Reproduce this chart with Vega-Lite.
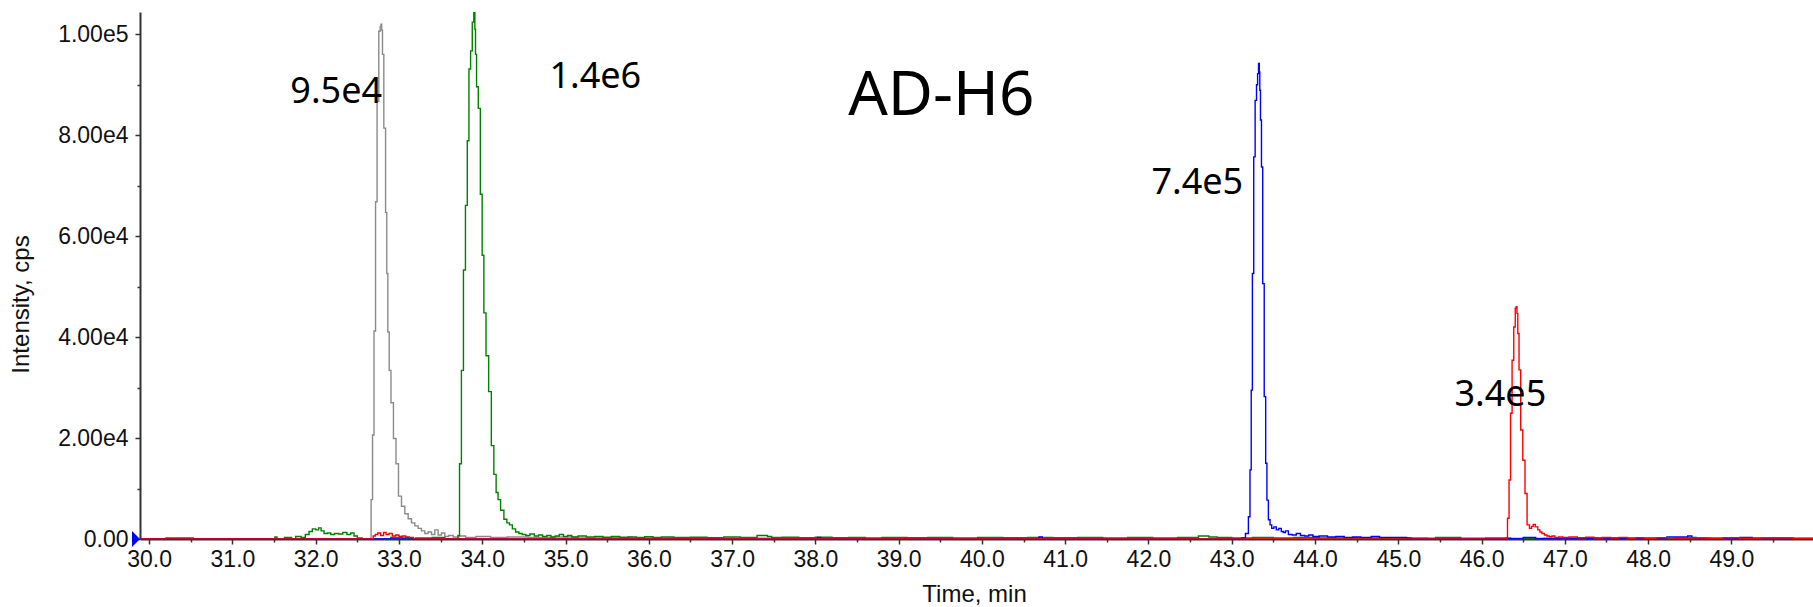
{
  "$schema": "https://vega.github.io/schema/vega-lite/v6.json",
  "width": 1673,
  "height": 527,
  "autosize": {"type": "none"},
  "padding": {"left": 140, "top": 12, "right": 0, "bottom": 68},
  "background": "white",
  "config": {
    "view": {"stroke": null},
    "axis": {
      "zindex": 1,
      "grid": false,
      "domainColor": "#333333",
      "domainWidth": 2,
      "tickColor": "#333333",
      "tickWidth": 1.5,
      "labelFont": "Liberation Sans",
      "labelFontSize": 23,
      "labelColor": "#111111",
      "labelOverlap": false,
      "labelFlush": false,
      "labelBound": false,
      "titleFont": "Liberation Sans",
      "titleFontSize": 24,
      "titleFontWeight": "normal",
      "titleColor": "#111111"
    }
  },
  "datasets": {
    "traces": [
      {"s": "gray", "t": 29.9, "v": 0}, {"s": "gray", "t": 32.6, "v": 0}, {"s": "gray", "t": 32.655, "v": 0},
      {"s": "gray", "t": 32.675, "v": 7800}, {"s": "gray", "t": 32.69, "v": 20600}, {"s": "gray", "t": 32.71, "v": 41200},
      {"s": "gray", "t": 32.727, "v": 66800}, {"s": "gray", "t": 32.747, "v": 86700}, {"s": "gray", "t": 32.768, "v": 100600},
      {"s": "gray", "t": 32.78, "v": 101500}, {"s": "gray", "t": 32.788, "v": 102000}, {"s": "gray", "t": 32.796, "v": 100800},
      {"s": "gray", "t": 32.808, "v": 96000}, {"s": "gray", "t": 32.828, "v": 81400}, {"s": "gray", "t": 32.85, "v": 64700},
      {"s": "gray", "t": 32.857, "v": 52600}, {"s": "gray", "t": 32.875, "v": 41000}, {"s": "gray", "t": 32.89, "v": 33400},
      {"s": "gray", "t": 32.917, "v": 27000}, {"s": "gray", "t": 32.95, "v": 19900}, {"s": "gray", "t": 32.978, "v": 14900},
      {"s": "gray", "t": 33.01, "v": 8500}, {"s": "gray", "t": 33.05, "v": 6500}, {"s": "gray", "t": 33.09, "v": 5000},
      {"s": "gray", "t": 33.13, "v": 4000}, {"s": "gray", "t": 33.17, "v": 3200}, {"s": "gray", "t": 33.21, "v": 2600},
      {"s": "gray", "t": 33.25, "v": 2100}, {"s": "gray", "t": 33.29, "v": 1600}, {"s": "gray", "t": 33.33, "v": 1100},
      {"s": "gray", "t": 33.37, "v": 1400}, {"s": "gray", "t": 33.41, "v": 900}, {"s": "gray", "t": 33.45, "v": 1800},
      {"s": "gray", "t": 33.49, "v": 800}, {"s": "gray", "t": 33.53, "v": 1200}, {"s": "gray", "t": 33.57, "v": 500},
      {"s": "gray", "t": 33.62, "v": 700}, {"s": "gray", "t": 33.68, "v": 400}, {"s": "gray", "t": 33.75, "v": 600},
      {"s": "gray", "t": 33.85, "v": 300}, {"s": "gray", "t": 34.0, "v": 500}, {"s": "gray", "t": 34.2, "v": 300},
      {"s": "gray", "t": 34.4, "v": 400}, {"s": "gray", "t": 34.7, "v": 300}, {"s": "gray", "t": 35.0, "v": 400},
      {"s": "gray", "t": 35.3, "v": 200}, {"s": "gray", "t": 35.6, "v": 350}, {"s": "gray", "t": 36.0, "v": 200},
      {"s": "gray", "t": 36.5, "v": 250}, {"s": "gray", "t": 37.0, "v": 150}, {"s": "gray", "t": 38.0, "v": 50},
      {"s": "gray", "t": 40.0, "v": 50}, {"s": "gray", "t": 45.0, "v": 50}, {"s": "gray", "t": 49.98, "v": 50},

      {"s": "green", "t": 29.9, "v": 0}, {"s": "green", "t": 30.5, "v": 200}, {"s": "green", "t": 30.56, "v": 0},
      {"s": "green", "t": 31.5, "v": 0}, {"s": "green", "t": 31.52, "v": 400}, {"s": "green", "t": 31.55, "v": 0},
      {"s": "green", "t": 31.7, "v": 300}, {"s": "green", "t": 31.72, "v": 0}, {"s": "green", "t": 31.8, "v": 500},
      {"s": "green", "t": 31.85, "v": 300}, {"s": "green", "t": 31.9, "v": 900}, {"s": "green", "t": 31.94, "v": 1500},
      {"s": "green", "t": 31.98, "v": 2000}, {"s": "green", "t": 32.02, "v": 1800}, {"s": "green", "t": 32.05, "v": 2200},
      {"s": "green", "t": 32.08, "v": 1600}, {"s": "green", "t": 32.12, "v": 1100}, {"s": "green", "t": 32.16, "v": 1200},
      {"s": "green", "t": 32.2, "v": 900}, {"s": "green", "t": 32.25, "v": 1100}, {"s": "green", "t": 32.3, "v": 1000},
      {"s": "green", "t": 32.35, "v": 1300}, {"s": "green", "t": 32.4, "v": 900}, {"s": "green", "t": 32.44, "v": 1200},
      {"s": "green", "t": 32.48, "v": 600}, {"s": "green", "t": 32.52, "v": 200}, {"s": "green", "t": 32.6, "v": 0},
      {"s": "green", "t": 32.8, "v": 0}, {"s": "green", "t": 33.0, "v": 300}, {"s": "green", "t": 33.1, "v": 0},
      {"s": "green", "t": 33.3, "v": 200}, {"s": "green", "t": 33.5, "v": 300}, {"s": "green", "t": 33.6, "v": 0},
      {"s": "green", "t": 33.7, "v": 0}, {"s": "green", "t": 33.717, "v": 700}, {"s": "green", "t": 33.737, "v": 14900},
      {"s": "green", "t": 33.762, "v": 33400}, {"s": "green", "t": 33.786, "v": 53300}, {"s": "green", "t": 33.81, "v": 66100},
      {"s": "green", "t": 33.83, "v": 78900}, {"s": "green", "t": 33.85, "v": 93100}, {"s": "green", "t": 33.87, "v": 96700},
      {"s": "green", "t": 33.89, "v": 102400}, {"s": "green", "t": 33.907, "v": 106000}, {"s": "green", "t": 33.915, "v": 101000},
      {"s": "green", "t": 33.923, "v": 96000}, {"s": "green", "t": 33.94, "v": 89600}, {"s": "green", "t": 33.964, "v": 85300},
      {"s": "green", "t": 33.99, "v": 68300}, {"s": "green", "t": 34.008, "v": 56200}, {"s": "green", "t": 34.03, "v": 44800},
      {"s": "green", "t": 34.06, "v": 36300}, {"s": "green", "t": 34.093, "v": 29200}, {"s": "green", "t": 34.125, "v": 18500},
      {"s": "green", "t": 34.153, "v": 12800}, {"s": "green", "t": 34.18, "v": 9200}, {"s": "green", "t": 34.2, "v": 7800},
      {"s": "green", "t": 34.24, "v": 5700}, {"s": "green", "t": 34.28, "v": 3900}, {"s": "green", "t": 34.31, "v": 3200},
      {"s": "green", "t": 34.343, "v": 2800}, {"s": "green", "t": 34.38, "v": 2000}, {"s": "green", "t": 34.42, "v": 1400},
      {"s": "green", "t": 34.46, "v": 1100}, {"s": "green", "t": 34.5, "v": 900}, {"s": "green", "t": 34.545, "v": 700},
      {"s": "green", "t": 34.6, "v": 1000}, {"s": "green", "t": 34.65, "v": 600}, {"s": "green", "t": 34.7, "v": 800},
      {"s": "green", "t": 34.75, "v": 500}, {"s": "green", "t": 34.8, "v": 700}, {"s": "green", "t": 34.85, "v": 400},
      {"s": "green", "t": 34.9, "v": 600}, {"s": "green", "t": 34.95, "v": 900}, {"s": "green", "t": 35.0, "v": 500},
      {"s": "green", "t": 35.05, "v": 700}, {"s": "green", "t": 35.1, "v": 400}, {"s": "green", "t": 35.2, "v": 600},
      {"s": "green", "t": 35.3, "v": 400}, {"s": "green", "t": 35.4, "v": 500}, {"s": "green", "t": 35.5, "v": 300},
      {"s": "green", "t": 35.6, "v": 500}, {"s": "green", "t": 35.7, "v": 300}, {"s": "green", "t": 35.8, "v": 400},
      {"s": "green", "t": 35.9, "v": 300}, {"s": "green", "t": 36.0, "v": 450}, {"s": "green", "t": 36.1, "v": 300},
      {"s": "green", "t": 36.2, "v": 400}, {"s": "green", "t": 36.4, "v": 300}, {"s": "green", "t": 36.6, "v": 350},
      {"s": "green", "t": 36.8, "v": 250}, {"s": "green", "t": 37.0, "v": 400}, {"s": "green", "t": 37.2, "v": 300},
      {"s": "green", "t": 37.4, "v": 700}, {"s": "green", "t": 37.45, "v": 500}, {"s": "green", "t": 37.5, "v": 300},
      {"s": "green", "t": 37.7, "v": 350}, {"s": "green", "t": 37.9, "v": 250}, {"s": "green", "t": 38.1, "v": 350},
      {"s": "green", "t": 38.3, "v": 250}, {"s": "green", "t": 38.5, "v": 300}, {"s": "green", "t": 38.7, "v": 200},
      {"s": "green", "t": 38.9, "v": 300}, {"s": "green", "t": 39.2, "v": 250}, {"s": "green", "t": 39.5, "v": 300},
      {"s": "green", "t": 39.8, "v": 200}, {"s": "green", "t": 40.1, "v": 300}, {"s": "green", "t": 40.4, "v": 250},
      {"s": "green", "t": 40.7, "v": 300}, {"s": "green", "t": 41.0, "v": 250}, {"s": "green", "t": 41.3, "v": 300},
      {"s": "green", "t": 41.6, "v": 200}, {"s": "green", "t": 41.9, "v": 300}, {"s": "green", "t": 42.2, "v": 200},
      {"s": "green", "t": 42.5, "v": 300}, {"s": "green", "t": 42.7, "v": 600}, {"s": "green", "t": 42.75, "v": 400},
      {"s": "green", "t": 42.9, "v": 300}, {"s": "green", "t": 43.1, "v": 200}, {"s": "green", "t": 43.4, "v": 300},
      {"s": "green", "t": 43.6, "v": 200}, {"s": "green", "t": 43.9, "v": 300}, {"s": "green", "t": 44.2, "v": 200},
      {"s": "green", "t": 44.5, "v": 250}, {"s": "green", "t": 44.8, "v": 200}, {"s": "green", "t": 45.0, "v": 250},
      {"s": "green", "t": 45.3, "v": 150}, {"s": "green", "t": 45.6, "v": 300}, {"s": "green", "t": 45.9, "v": 150},
      {"s": "green", "t": 46.2, "v": 200}, {"s": "green", "t": 46.5, "v": 100}, {"s": "green", "t": 47.0, "v": 150},
      {"s": "green", "t": 47.5, "v": 200}, {"s": "green", "t": 48.0, "v": 150}, {"s": "green", "t": 48.5, "v": 200},
      {"s": "green", "t": 49.0, "v": 150}, {"s": "green", "t": 49.5, "v": 200}, {"s": "green", "t": 49.98, "v": 100},

      {"s": "blue", "t": 29.9, "v": 0}, {"s": "blue", "t": 33.05, "v": 0}, {"s": "blue", "t": 33.1, "v": 300},
      {"s": "blue", "t": 33.12, "v": 0}, {"s": "blue", "t": 38.0, "v": 0}, {"s": "blue", "t": 38.05, "v": 300},
      {"s": "blue", "t": 38.08, "v": 0}, {"s": "blue", "t": 40.67, "v": 0}, {"s": "blue", "t": 40.7, "v": 400},
      {"s": "blue", "t": 40.75, "v": 0}, {"s": "blue", "t": 43.1, "v": 0},
      {"s": "blue", "t": 43.14, "v": 200}, {"s": "blue", "t": 43.19, "v": 1100}, {"s": "blue", "t": 43.21, "v": 4400},
      {"s": "blue", "t": 43.228, "v": 13700}, {"s": "blue", "t": 43.24, "v": 29500}, {"s": "blue", "t": 43.256, "v": 52600},
      {"s": "blue", "t": 43.272, "v": 75700}, {"s": "blue", "t": 43.29, "v": 86900}, {"s": "blue", "t": 43.305, "v": 90000},
      {"s": "blue", "t": 43.316, "v": 92200}, {"s": "blue", "t": 43.328, "v": 94200}, {"s": "blue", "t": 43.334, "v": 92500},
      {"s": "blue", "t": 43.34, "v": 88900}, {"s": "blue", "t": 43.35, "v": 83000}, {"s": "blue", "t": 43.364, "v": 73700},
      {"s": "blue", "t": 43.38, "v": 50600}, {"s": "blue", "t": 43.4, "v": 28200}, {"s": "blue", "t": 43.415, "v": 15000},
      {"s": "blue", "t": 43.43, "v": 7700}, {"s": "blue", "t": 43.45, "v": 3800}, {"s": "blue", "t": 43.47, "v": 2800},
      {"s": "blue", "t": 43.49, "v": 2100}, {"s": "blue", "t": 43.52, "v": 2400}, {"s": "blue", "t": 43.55, "v": 1800},
      {"s": "blue", "t": 43.58, "v": 2100}, {"s": "blue", "t": 43.61, "v": 1500}, {"s": "blue", "t": 43.63, "v": 1300},
      {"s": "blue", "t": 43.66, "v": 1600}, {"s": "blue", "t": 43.7, "v": 900}, {"s": "blue", "t": 43.75, "v": 800},
      {"s": "blue", "t": 43.8, "v": 1100}, {"s": "blue", "t": 43.85, "v": 700}, {"s": "blue", "t": 43.9, "v": 600},
      {"s": "blue", "t": 43.95, "v": 800}, {"s": "blue", "t": 44.0, "v": 500}, {"s": "blue", "t": 44.1, "v": 600},
      {"s": "blue", "t": 44.2, "v": 400}, {"s": "blue", "t": 44.3, "v": 500}, {"s": "blue", "t": 44.4, "v": 300},
      {"s": "blue", "t": 44.5, "v": 400}, {"s": "blue", "t": 44.6, "v": 300}, {"s": "blue", "t": 44.75, "v": 500},
      {"s": "blue", "t": 44.8, "v": 300}, {"s": "blue", "t": 45.0, "v": 300}, {"s": "blue", "t": 45.2, "v": 100},
      {"s": "blue", "t": 45.5, "v": 50}, {"s": "blue", "t": 46.0, "v": 50}, {"s": "blue", "t": 46.4, "v": 50},
      {"s": "blue", "t": 46.6, "v": 300}, {"s": "blue", "t": 46.7, "v": 50}, {"s": "blue", "t": 47.0, "v": 50},
      {"s": "blue", "t": 47.5, "v": 50}, {"s": "blue", "t": 48.0, "v": 100}, {"s": "blue", "t": 48.45, "v": 400},
      {"s": "blue", "t": 48.5, "v": 600}, {"s": "blue", "t": 48.55, "v": 300}, {"s": "blue", "t": 48.6, "v": 50},
      {"s": "blue", "t": 49.0, "v": 50}, {"s": "blue", "t": 49.2, "v": 300}, {"s": "blue", "t": 49.3, "v": 50},
      {"s": "blue", "t": 49.98, "v": 50},

      {"s": "red", "t": 29.9, "v": 0}, {"s": "red", "t": 32.68, "v": 0}, {"s": "red", "t": 32.7, "v": 600},
      {"s": "red", "t": 32.73, "v": 900}, {"s": "red", "t": 32.76, "v": 1200}, {"s": "red", "t": 32.8, "v": 700},
      {"s": "red", "t": 32.83, "v": 1300}, {"s": "red", "t": 32.86, "v": 900}, {"s": "red", "t": 32.9, "v": 1100},
      {"s": "red", "t": 32.94, "v": 600}, {"s": "red", "t": 32.98, "v": 800}, {"s": "red", "t": 33.02, "v": 500},
      {"s": "red", "t": 33.06, "v": 600}, {"s": "red", "t": 33.1, "v": 400}, {"s": "red", "t": 33.15, "v": 300},
      {"s": "red", "t": 33.2, "v": 0}, {"s": "red", "t": 39.05, "v": 0}, {"s": "red", "t": 39.08, "v": 300},
      {"s": "red", "t": 39.12, "v": 0}, {"s": "red", "t": 46.28, "v": 0}, {"s": "red", "t": 46.303, "v": 200},
      {"s": "red", "t": 46.32, "v": 4100}, {"s": "red", "t": 46.34, "v": 11700}, {"s": "red", "t": 46.357, "v": 24900},
      {"s": "red", "t": 46.376, "v": 35400}, {"s": "red", "t": 46.397, "v": 42000}, {"s": "red", "t": 46.412, "v": 45700},
      {"s": "red", "t": 46.42, "v": 46000}, {"s": "red", "t": 46.43, "v": 44700}, {"s": "red", "t": 46.44, "v": 40700},
      {"s": "red", "t": 46.46, "v": 33500}, {"s": "red", "t": 46.48, "v": 21600}, {"s": "red", "t": 46.51, "v": 15600},
      {"s": "red", "t": 46.533, "v": 9000}, {"s": "red", "t": 46.56, "v": 2800}, {"s": "red", "t": 46.59, "v": 2100},
      {"s": "red", "t": 46.61, "v": 2500}, {"s": "red", "t": 46.63, "v": 2900}, {"s": "red", "t": 46.66, "v": 2400},
      {"s": "red", "t": 46.69, "v": 1800}, {"s": "red", "t": 46.71, "v": 1400}, {"s": "red", "t": 46.74, "v": 1100},
      {"s": "red", "t": 46.77, "v": 800}, {"s": "red", "t": 46.8, "v": 600}, {"s": "red", "t": 46.83, "v": 450},
      {"s": "red", "t": 46.86, "v": 600}, {"s": "red", "t": 46.9, "v": 300}, {"s": "red", "t": 46.95, "v": 400},
      {"s": "red", "t": 47.0, "v": 300}, {"s": "red", "t": 47.1, "v": 400}, {"s": "red", "t": 47.2, "v": 250},
      {"s": "red", "t": 47.3, "v": 350}, {"s": "red", "t": 47.4, "v": 200}, {"s": "red", "t": 47.5, "v": 300},
      {"s": "red", "t": 47.6, "v": 200}, {"s": "red", "t": 47.7, "v": 300}, {"s": "red", "t": 47.8, "v": 150},
      {"s": "red", "t": 47.9, "v": 250}, {"s": "red", "t": 48.0, "v": 150}, {"s": "red", "t": 48.2, "v": 250},
      {"s": "red", "t": 48.4, "v": 150}, {"s": "red", "t": 48.6, "v": 200}, {"s": "red", "t": 48.8, "v": 150},
      {"s": "red", "t": 49.0, "v": 250}, {"s": "red", "t": 49.2, "v": 150}, {"s": "red", "t": 49.5, "v": 200},
      {"s": "red", "t": 49.98, "v": 150}
    ],
    "peakLabels": [
      {"t": 32.246, "v": 86400, "label": "9.5e4"},
      {"t": 35.357, "v": 89300, "label": "1.4e6"},
      {"t": 42.587, "v": 68300, "label": "7.4e5"},
      {"t": 46.226, "v": 26350, "label": "3.4e5"}
    ],
    "heading": [
      {"t": 39.512, "v": 84000, "label": "AD-H6"}
    ],
    "marker": [
      {"t": 29.89, "v": 0}
    ]
  },
  "encoding": {
    "x": {
      "field": "t",
      "type": "quantitative",
      "scale": {"domain": [29.89, 49.98], "nice": false, "zero": false},
      "axis": {
        "title": "Time, min",
        "values": [30, 30.5, 31, 31.5, 32, 32.5, 33, 33.5, 34, 34.5, 35, 35.5, 36, 36.5, 37, 37.5, 38, 38.5, 39, 39.5, 40, 40.5, 41, 41.5, 42, 42.5, 43, 43.5, 44, 44.5, 45, 45.5, 46, 46.5, 47, 47.5, 48, 48.5, 49, 49.5],
        "labelExpr": "datum.value % 1 == 0 ? format(datum.value, '.1f') : ''",
        "tickSize": {"condition": {"test": "datum.value % 1 == 0", "value": 5}, "value": 3},
        "labelPadding": 4,
        "titleX": 834,
        "titleY": 62,
        "titleAlign": "center",
        "titleBaseline": "alphabetic"
      }
    },
    "y": {
      "field": "v",
      "type": "quantitative",
      "scale": {"domain": [0, 104400], "nice": false},
      "axis": {
        "title": "Intensity, cps",
        "values": [0, 10000, 20000, 30000, 40000, 50000, 60000, 70000, 80000, 90000, 100000],
        "labelExpr": "datum.value % 20000 == 0 ? (datum.value == 0 ? '0.00' : replace(format(datum.value, '.2e'), '+', '')) : ''",
        "tickSize": {"condition": {"test": "datum.value % 20000 == 0", "value": 5}, "value": 3},
        "labelPadding": 7,
        "titleAngle": 270,
        "titleX": -119,
        "titleY": 292,
        "titleAlign": "center",
        "titleBaseline": "middle"
      }
    }
  },
  "layer": [
    {
      "data": {"name": "traces"},
      "mark": {"type": "line", "interpolate": "step", "strokeWidth": 1.4, "clip": true},
      "encoding": {
        "color": {
          "field": "s",
          "type": "nominal",
          "scale": {"domain": ["gray", "green", "blue", "red"], "range": ["#8a8a8a", "#008000", "#0000ff", "#ff0000"]},
          "legend": null
        }
      }
    },
    {
      "data": {"name": "marker"},
      "mark": {"type": "point", "shape": "M-0.5,-1L0.5,0L-0.5,1Z", "filled": true, "color": "#0000ff", "opacity": 1, "size": 256, "xOffset": -4, "zindex": 2}
    },
    {
      "data": {"name": "peakLabels"},
      "mark": {"type": "text", "font": "Noto Sans", "fontSize": 36, "align": "center", "baseline": "alphabetic", "color": "#000000"},
      "encoding": {"text": {"field": "label", "type": "nominal"}}
    },
    {
      "data": {"name": "heading"},
      "mark": {"type": "text", "font": "Noto Sans", "fontSize": 62, "align": "center", "baseline": "alphabetic", "color": "#000000"},
      "encoding": {"text": {"field": "label", "type": "nominal"}}
    }
  ]
}
